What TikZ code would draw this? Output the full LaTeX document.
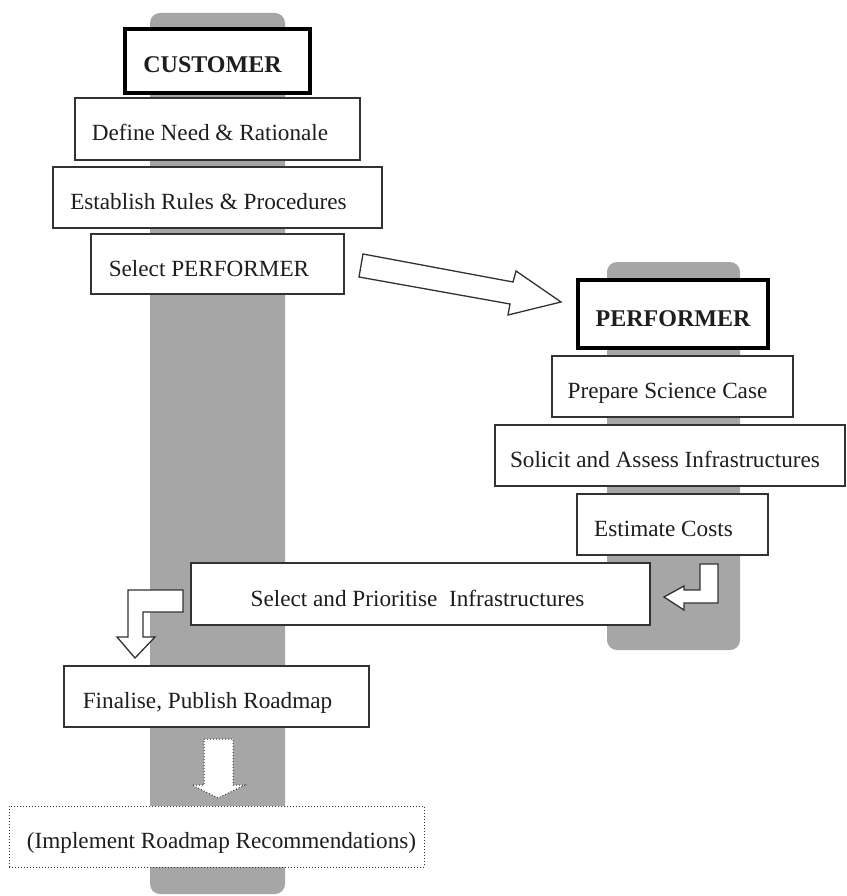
\documentclass[tikz,border=0pt]{standalone}
\usepackage{fontspec}
\setmainfont{Liberation Serif}
\begin{document}
\begin{tikzpicture}[x=1pt,y=-1pt,
  lane/.style={fill=lanegray,draw=none,rounded corners=10pt},
  stepbox/.style={draw=boxline,line width=1.3pt,fill=white,inner sep=0pt,
    text height=24pt,text depth=0pt,
    font=\fontsize{23.2}{27}\selectfont,text=txt},
  headbox/.style={draw=black,line width=3.5pt,fill=white,inner sep=0pt,
    text height=24pt,text depth=0pt,
    font=\fontsize{24}{28}\selectfont\bfseries,text=txt},
  dotbox/.style={draw=boxline,line width=1pt,dotted,fill=white,inner sep=0pt,
    text height=24pt,text depth=0pt,
    font=\fontsize{23.2}{27}\selectfont,text=txt},
  blockarrow/.style={draw=boxline,line width=1.3pt,fill=white,line join=miter},
  dotarrow/.style={draw=boxline,line width=1pt,dotted,fill=white}]
\definecolor{lanegray}{RGB}{166,166,166}
\definecolor{boxline}{RGB}{50,50,50}
\definecolor{txt}{RGB}{30,30,30}
\useasboundingbox[fill=white] (0,0) rectangle (846,896);
% lanes
\fill[lane] (150,13) rectangle (285,894);
\fill[lane] (607,262) rectangle (740,650);
% customer column
\node[headbox,minimum width=185pt,minimum height=64pt] (cust) at (217.5,61) {\hspace*{-10pt}CUSTOMER};
\node[stepbox,minimum width=285pt,minimum height=62pt] (need) at (217.5,129) {\hspace*{-15pt}Define Need \& Rationale};
\node[stepbox,minimum width=329pt,minimum height=61pt] (rules) at (217.5,197.5) {\hspace*{-18pt}Establish Rules \& Procedures};
\node[stepbox,minimum width=253pt,minimum height=60pt] (selp) at (217.5,264) {\hspace*{-17pt}Select PERFORMER};
% performer column
\node[headbox,minimum width=190pt,minimum height=68pt] (perf) at (673,314) {PERFORMER};
\node[stepbox,minimum width=241pt,minimum height=61pt] (sci) at (672.5,386.5) {\hspace*{-10pt}Prepare Science Case};
\node[stepbox,minimum width=350pt,minimum height=61pt] (sol) at (670,455.5) {\hspace*{-10pt}Solicit and Assess Infrastructures};
\node[stepbox,minimum width=191pt,minimum height=61pt] (cost) at (672.5,524.5) {\hspace*{-18pt}Estimate Costs};
% bottom
\node[stepbox,minimum width=459pt,minimum height=62pt] (prio) at (420.5,594) {\hspace*{-6pt}Select and Prioritise~ Infrastructures};
\node[stepbox,minimum width=305pt,minimum height=61pt] (fin) at (216.5,696.5) {\hspace*{-18pt}Finalise, Publish Roadmap};
\node[dotbox,minimum width=415pt,minimum height=61pt] (impl) at (216.5,836.5) {\hspace*{10pt}(Implement Roadmap Recommendations)};
% block arrows
\draw[blockarrow] (363,254) -- (513,282) -- (516,271) -- (561,302) -- (508,315) -- (510,304) -- (359,277) -- cycle;
\draw[blockarrow] (718,564) -- (700,564) -- (700,590) -- (684,590) -- (684,586) -- (664,597) -- (684,610) -- (684,603) -- (718,603) -- cycle;
\draw[blockarrow] (183,590) -- (128,590) -- (128,637) -- (117,637) -- (135,658) -- (155,637) -- (143,637) -- (143,612) -- (183,612) -- cycle;
\draw[dotarrow] (204,739) -- (233,739) -- (233,785) -- (245,785) -- (218,798) -- (192,785) -- (204,785) -- cycle;
\end{tikzpicture}
\end{document}
